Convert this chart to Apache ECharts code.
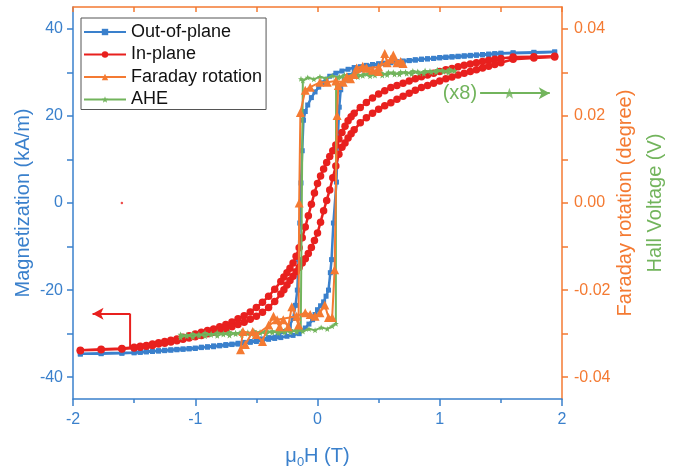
<!DOCTYPE html>
<html lang="en">
<head>
    <meta charset="UTF-8">
    <title>Hysteresis</title>
    <script src="https://cdn.jsdelivr.net/npm/echarts@6/dist/echarts.min.js"></script>
    <style>
        html, body { margin: 0; padding: 0; background: #fff; }
        #chart { width: 679px; height: 468px; }
    </style>
</head>
<body>
    <div id="chart"></div>
    <script>
        // colours
        var BLUE = '#3a80cc';
        var RED = '#e8201e';
        var ORANGE = '#f47a32';
        var GREEN = '#72b45c';
        var STAR = 'path://M12,1 L15,9 L23,9 L17,14 L19,22 L12,17 L5,22 L7,14 L1,9 L9,9 Z';

        // Out-of-plane magnetization (kA/m), field sweep down then up
        var outPlaneDown = [[1.94,34.6],[1.77,34.5],[1.6,34.4],[1.5,34.3],[1.45,34.2],[1.4,34.1],[1.35,34.0],[1.3,33.9],[1.25,33.8],[1.2,33.7],[1.15,33.6],[1.1,33.5],[1.05,33.4],[1.0,33.3],[0.95,33.2],[0.9,33.1],[0.85,33.0],[0.8,32.9],[0.75,32.7],[0.7,32.6],[0.65,32.4],[0.6,32.3],[0.55,32.1],[0.5,32.0],[0.45,31.8],[0.4,31.6],[0.35,31.3],[0.3,31.1],[0.25,30.7],[0.2,30.3],[0.15,29.8],[0.1,29.1],[0.07,28.4],[0.04,27.6],[0.01,26.6],[-0.02,25.5],[-0.05,24.2],[-0.08,22.5],[-0.1,21.0],[-0.115,19.0],[-0.125,12.0],[-0.135,4.6],[-0.145,-4.6],[-0.155,-13.0],[-0.165,-20.0],[-0.18,-23.5],[-0.2,-26.5],[-0.23,-28.3],[-0.27,-29.5],[-0.32,-30.3],[-0.4,-30.9],[-0.45,-31.2],[-0.5,-31.5],[-0.55,-31.8],[-0.6,-32.0],[-0.65,-32.2],[-0.7,-32.4],[-0.75,-32.5],[-0.8,-32.7],[-0.85,-32.8],[-0.9,-33.0],[-0.95,-33.1],[-1.0,-33.3],[-1.05,-33.4],[-1.1,-33.5],[-1.15,-33.6],[-1.2,-33.7],[-1.25,-33.8],[-1.3,-33.9],[-1.35,-34.0],[-1.4,-34.1],[-1.45,-34.2],[-1.5,-34.3],[-1.6,-34.4],[-1.77,-34.5],[-1.94,-34.6]];
        var outPlaneUp = [[-1.94,-34.7],[-1.77,-34.6],[-1.6,-34.5],[-1.5,-34.4],[-1.45,-34.3],[-1.4,-34.2],[-1.35,-34.1],[-1.3,-34.0],[-1.25,-33.9],[-1.2,-33.8],[-1.15,-33.7],[-1.1,-33.6],[-1.05,-33.5],[-1.0,-33.4],[-0.95,-33.2],[-0.9,-33.1],[-0.85,-33.0],[-0.8,-32.8],[-0.75,-32.7],[-0.7,-32.5],[-0.65,-32.4],[-0.6,-32.2],[-0.55,-32.0],[-0.5,-31.8],[-0.45,-31.6],[-0.4,-31.3],[-0.35,-31.1],[-0.3,-30.9],[-0.25,-30.6],[-0.2,-30.4],[-0.15,-30.0],[-0.1,-28.7],[-0.07,-27.8],[-0.04,-26.8],[-0.02,-25.6],[0.0,-24.5],[0.025,-23.6],[0.05,-22.7],[0.07,-21.4],[0.09,-20.0],[0.105,-16.0],[0.115,-13.0],[0.13,-4.6],[0.155,4.8],[0.168,16.0],[0.178,22.0],[0.19,26.0],[0.22,28.2],[0.26,29.3],[0.3,30.0],[0.35,30.6],[0.4,31.1],[0.45,31.5],[0.5,31.8],[0.55,32.0],[0.6,32.2],[0.65,32.4],[0.7,32.5],[0.75,32.7],[0.8,32.8],[0.85,33.0],[0.9,33.1],[0.95,33.2],[1.0,33.4],[1.05,33.5],[1.1,33.6],[1.15,33.7],[1.2,33.8],[1.25,33.9],[1.3,34.0],[1.35,34.1],[1.4,34.2],[1.45,34.3],[1.5,34.4],[1.6,34.5],[1.77,34.6],[1.94,34.7]];

        // In-plane magnetization (kA/m)
        var inPlaneDown = [[1.94,33.7],[1.77,33.6],[1.6,33.5],[1.5,33.2],[1.45,33.0],[1.4,32.8],[1.35,32.5],[1.3,32.2],[1.25,31.9],[1.2,31.6],[1.15,31.3],[1.1,30.9],[1.05,30.6],[1.0,30.2],[0.95,29.8],[0.9,29.4],[0.85,29.0],[0.8,28.5],[0.75,28.0],[0.7,27.5],[0.65,27.0],[0.6,26.5],[0.55,25.8],[0.5,25.0],[0.45,24.1],[0.4,23.1],[0.35,21.9],[0.3,20.6],[0.275,19.8],[0.25,18.9],[0.225,17.6],[0.2,16.2],[0.175,14.7],[0.15,13.3],[0.125,12.0],[0.1,10.7],[0.075,9.3],[0.05,7.8],[0.025,6.2],[0.0,4.5],[-0.025,2.3],[-0.05,-0.3],[-0.075,-2.9],[-0.1,-5.5],[-0.125,-8.0],[-0.15,-10.3],[-0.175,-12.2],[-0.2,-13.8],[-0.225,-15.0],[-0.25,-16.0],[-0.275,-17.0],[-0.3,-18.0],[-0.35,-19.8],[-0.4,-21.4],[-0.45,-22.8],[-0.5,-24.0],[-0.55,-25.0],[-0.6,-25.9],[-0.65,-26.6],[-0.7,-27.3],[-0.75,-27.9],[-0.8,-28.4],[-0.85,-28.9],[-0.9,-29.3],[-0.95,-29.7],[-1.0,-30.1],[-1.05,-30.5],[-1.1,-30.8],[-1.15,-31.2],[-1.2,-31.5],[-1.25,-31.8],[-1.3,-32.1],[-1.35,-32.4],[-1.4,-32.7],[-1.45,-32.9],[-1.5,-33.1],[-1.6,-33.4],[-1.77,-33.6],[-1.94,-33.8]];
        var inPlaneUp = [[-1.94,-33.9],[-1.77,-33.7],[-1.6,-33.5],[-1.5,-33.3],[-1.45,-33.1],[-1.4,-32.9],[-1.35,-32.7],[-1.3,-32.4],[-1.25,-32.2],[-1.2,-31.9],[-1.15,-31.6],[-1.1,-31.3],[-1.05,-31.0],[-1.0,-30.7],[-0.95,-30.4],[-0.9,-30.0],[-0.85,-29.7],[-0.8,-29.3],[-0.75,-28.9],[-0.7,-28.4],[-0.65,-27.9],[-0.6,-27.4],[-0.55,-26.7],[-0.5,-26.0],[-0.45,-25.1],[-0.4,-24.0],[-0.35,-22.6],[-0.3,-20.9],[-0.275,-19.9],[-0.25,-18.8],[-0.225,-17.8],[-0.2,-16.8],[-0.175,-15.8],[-0.15,-14.8],[-0.125,-13.8],[-0.1,-12.8],[-0.075,-11.6],[-0.05,-10.2],[-0.025,-8.6],[0.0,-6.9],[0.025,-4.4],[0.05,-1.8],[0.075,0.6],[0.1,3.0],[0.125,5.8],[0.15,8.5],[0.175,11.2],[0.2,12.8],[0.225,13.8],[0.25,14.9],[0.275,15.9],[0.3,16.8],[0.35,18.4],[0.4,19.6],[0.45,20.6],[0.5,21.5],[0.55,22.3],[0.6,23.0],[0.65,23.8],[0.7,24.5],[0.75,25.2],[0.8,25.9],[0.85,26.5],[0.9,27.0],[0.95,27.5],[1.0,28.0],[1.05,28.5],[1.1,28.9],[1.15,29.4],[1.2,29.8],[1.25,30.2],[1.3,30.6],[1.35,31.0],[1.4,31.4],[1.45,31.8],[1.5,32.2],[1.6,33.0],[1.77,33.3],[1.94,33.5]];

        // Faraday rotation (degree)
        var faradayDown = [[0.70,0.0320],[0.65,0.0322],[0.62,0.0340],[0.57,0.0322],[0.55,0.0343],[0.50,0.0302],[0.45,0.0305],[0.40,0.0310],[0.37,0.0314],[0.32,0.0310],[0.27,0.0285],[0.21,0.0277],[0.15,0.0280],[0.08,0.0277],[0.02,0.0277],[-0.06,0.0266],[-0.10,0.0259],[-0.14,0.0208],[-0.15,0.0000],[-0.155,-0.0280],[-0.21,-0.0238],[-0.24,-0.0284],[-0.28,-0.0268],[-0.31,-0.0284],[-0.36,-0.0260],[-0.40,-0.0280],[-0.45,-0.0318],[-0.53,-0.0295],[-0.59,-0.0325],[-0.63,-0.0337]];
        var faradayUp = [[-0.61,-0.0295],[-0.50,-0.0302],[-0.33,-0.0268],[-0.17,-0.0260],[-0.10,-0.0252],[-0.06,-0.0256],[-0.02,-0.0260],[0.02,-0.0252],[0.06,-0.0234],[0.09,-0.0263],[0.12,-0.0263],[0.14,-0.0153],[0.16,0.0201],[0.17,0.0270],[0.24,0.0290],[0.30,0.0295],[0.40,0.0310],[0.50,0.0312],[0.60,0.0330],[0.68,0.0325]];

        // AHE Hall voltage (V, x8)
        var aheDown = [[1.12,0.0304],[1.07,0.0299],[1.02,0.0305],[0.97,0.0300],[0.92,0.0303],[0.87,0.0297],[0.82,0.0302],[0.77,0.0296],[0.72,0.0301],[0.67,0.0295],[0.62,0.0300],[0.57,0.0294],[0.52,0.0299],[0.47,0.0293],[0.42,0.0298],[0.37,0.0292],[0.32,0.0296],[0.27,0.0290],[0.22,0.0294],[0.17,0.0288],[0.12,0.0292],[0.07,0.0286],[0.02,0.0290],[-0.03,0.0284],[-0.08,0.0288],[-0.12,0.0281],[-0.135,0.0285],[-0.137,-0.0288],[-0.17,-0.0296],[-0.22,-0.0291],[-0.27,-0.0297],[-0.32,-0.0292],[-0.37,-0.0298],[-0.42,-0.0293],[-0.47,-0.0299],[-0.52,-0.0294],[-0.57,-0.0300],[-0.62,-0.0295],[-0.67,-0.0301],[-0.72,-0.0296],[-0.77,-0.0302],[-0.82,-0.0297],[-0.87,-0.0303],[-0.92,-0.0298],[-0.97,-0.0305],[-1.02,-0.0300],[-1.07,-0.0306],[-1.12,-0.0302]];
        var aheUp = [[-1.12,-0.0309],[-1.07,-0.0303],[-1.02,-0.0308],[-0.97,-0.0301],[-0.92,-0.0306],[-0.87,-0.0300],[-0.82,-0.0305],[-0.77,-0.0299],[-0.72,-0.0304],[-0.67,-0.0298],[-0.62,-0.0303],[-0.57,-0.0297],[-0.52,-0.0302],[-0.47,-0.0296],[-0.42,-0.0300],[-0.37,-0.0294],[-0.32,-0.0299],[-0.27,-0.0293],[-0.22,-0.0297],[-0.17,-0.0291],[-0.12,-0.0295],[-0.07,-0.0289],[-0.02,-0.0292],[0.03,-0.0286],[0.08,-0.0289],[0.12,-0.0283],[0.15,-0.0277],[0.152,0.0282],[0.18,0.0290],[0.23,0.0286],[0.28,0.0293],[0.33,0.0289],[0.38,0.0296],[0.43,0.0291],[0.48,0.0298],[0.53,0.0293],[0.58,0.0300],[0.63,0.0295],[0.68,0.0301],[0.73,0.0297],[0.78,0.0303],[0.83,0.0298],[0.88,0.0304],[0.93,0.0300],[0.98,0.0306],[1.03,0.0301],[1.08,0.0307],[1.12,0.0303]];

        var strayPoint = [[-1.6, 0]];

        // annotation arrows
        var redArrowPath = [[-1.533, -33.2], [-1.533, -25.4]];
        var redArrowHead = [[-1.533, -25.4], [-1.84, -25.4]];
        var greenArrow = [[1.33, 0.0252], [1.9, 0.0252]];
        var greenArrowStar = [[1.57, 0.0252]];

        // ticks
        var leftLabels = [-40, -20, 0, 20, 40];
        var leftTicks = [-40, -30, -20, -10, 0, 10, 20, 30, 40];
        var rightLabels = [-0.04, -0.02, 0, 0.02, 0.04];
        var rightTicks = [-0.04, -0.03, -0.02, -0.01, 0, 0.01, 0.02, 0.03, 0.04];

        var FONT = '"Liberation Sans", Arial, sans-serif';

        var chart = echarts.init(document.getElementById('chart'));
        chart.setOption({
            animation: false,
            textStyle: { fontFamily: FONT },
            grid: { left: 73, right: 117, top: 7, bottom: 69, containLabel: false, outerBoundsMode: 'none' },
            legend: {
                data: ['Out-of-plane', 'In-plane', 'Faraday rotation', 'AHE'],
                orient: 'vertical',
                left: 81,
                top: 18,
                padding: [5, 4, 1, 2],
                itemWidth: 42,
                itemHeight: 8,
                itemGap: 4.5,
                borderColor: '#555',
                borderWidth: 1,
                textStyle: { fontSize: 18, color: '#111', fontFamily: FONT }
            },
            xAxis: [{
                type: 'value',
                min: -2, max: 2, interval: 1,
                position: 'bottom',
                name: '{a|μ}{s|0}{a|H (T)}',
                nameLocation: 'middle',
                nameGap: 45,
                nameMoveOverlap: false,
                nameTextStyle: {
                    rich: {
                        a: { fontSize: 20, color: BLUE, fontFamily: FONT },
                        s: { fontSize: 13, color: BLUE, fontFamily: FONT, padding: [12, 0, 0, 0] }
                    }
                },
                axisLine: { onZero: false, lineStyle: { color: BLUE, width: 1.5 } },
                axisTick: { length: 7, lineStyle: { color: BLUE, width: 1.5 } },
                minorTick: { show: true, splitNumber: 2, length: 4, lineStyle: { color: BLUE, width: 1.5 } },
                axisLabel: { fontSize: 16, color: BLUE, margin: 13, fontFamily: FONT },
                splitLine: { show: false }
            }, {
                type: 'value',
                min: -2, max: 2, interval: 0.5,
                position: 'top',
                axisLine: { onZero: false, lineStyle: { color: ORANGE, width: 1.5 } },
                axisTick: { inside: true, length: 5, lineStyle: { color: ORANGE, width: 1.5 } },
                axisLabel: { show: false },
                splitLine: { show: false }
            }],
            yAxis: [{
                type: 'value',
                min: -45, max: 45,
                position: 'left',
                name: 'Magnetization (kA/m)',
                nameLocation: 'middle',
                nameGap: 40,
                nameMoveOverlap: false,
                nameTextStyle: { fontSize: 20, color: BLUE, fontFamily: FONT },
                axisLine: { show: true, onZero: false, lineStyle: { color: BLUE, width: 1.5 } },
                axisTick: { show: true, length: 6, customValues: leftTicks, lineStyle: { color: BLUE, width: 1.5 } },
                axisLabel: { fontSize: 16, color: BLUE, margin: 10, customValues: leftLabels, fontFamily: FONT },
                splitLine: { show: false }
            }, {
                type: 'value',
                min: -0.045, max: 0.045,
                position: 'right',
                name: '{a|Faraday rotation (degree)}\n{b|Hall Voltage (V)}',
                nameLocation: 'middle',
                nameRotate: 90,
                nameGap: 48,
                nameMoveOverlap: false,
                nameTextStyle: {
                    align: 'center',
                    rich: {
                        a: { fontSize: 20, color: ORANGE, lineHeight: 30, align: 'center', fontFamily: FONT },
                        b: { fontSize: 20, color: GREEN, lineHeight: 30, align: 'center', fontFamily: FONT }
                    }
                },
                axisLine: { show: true, onZero: false, lineStyle: { color: ORANGE, width: 1.5 } },
                axisTick: { show: true, length: 6, customValues: rightTicks, lineStyle: { color: ORANGE, width: 1.5 } },
                axisLabel: {
                    fontSize: 16, color: ORANGE, margin: 12, customValues: rightLabels, fontFamily: FONT,
                    formatter: function (v) { return v.toFixed(2); }
                },
                splitLine: { show: false }
            }],
            series: [{
                name: 'Out-of-plane',
                type: 'line',
                data: outPlaneDown.concat(outPlaneUp),
                symbol: 'rect',
                symbolSize: 5,
                showAllSymbol: true,
                color: BLUE,
                lineStyle: { width: 2.5, color: BLUE },
                itemStyle: { color: BLUE },
                z: 2
            }, {
                name: 'In-plane',
                type: 'line',
                data: inPlaneDown.concat(inPlaneUp),
                symbol: 'circle',
                symbolSize: 7.5,
                showAllSymbol: true,
                color: RED,
                lineStyle: { width: 2.5, color: RED },
                itemStyle: { color: RED },
                z: 3
            }, {
                name: 'AHE',
                type: 'line',
                yAxisIndex: 1,
                data: aheDown.concat(aheUp),
                symbol: STAR,
                symbolSize: 6,
                showAllSymbol: true,
                color: GREEN,
                lineStyle: { width: 2, color: GREEN },
                itemStyle: { color: GREEN },
                z: 4
            }, {
                name: 'Faraday rotation',
                type: 'line',
                yAxisIndex: 1,
                data: faradayDown.concat(faradayUp),
                symbol: 'triangle',
                symbolSize: 9,
                showAllSymbol: true,
                color: ORANGE,
                lineStyle: { width: 2, color: ORANGE },
                itemStyle: { color: ORANGE },
                z: 5
            }, {
                name: 'stray',
                type: 'scatter',
                data: strayPoint,
                symbolSize: 2.5,
                itemStyle: { color: RED },
                silent: true
            }, {
                name: 'arrowRed',
                type: 'line',
                data: redArrowPath,
                symbol: 'none',
                lineStyle: { width: 2, color: RED },
                silent: true,
                markLine: {
                    silent: true,
                    symbol: ['none', 'arrow'],
                    symbolSize: [9, 11],
                    lineStyle: { color: RED, width: 2, type: 'solid' },
                    label: { show: false },
                    data: [[{ coord: redArrowHead[0] }, { coord: redArrowHead[1] }]]
                }
            }, {
                name: 'arrowGreen',
                type: 'scatter',
                yAxisIndex: 1,
                data: greenArrowStar,
                symbol: STAR,
                symbolSize: 11,
                itemStyle: { color: GREEN },
                silent: true,
                z: 6,
                markLine: {
                    silent: true,
                    symbol: ['none', 'arrow'],
                    symbolSize: [9, 11],
                    lineStyle: { color: GREEN, width: 2, type: 'solid' },
                    label: {
                        show: true, position: 'start', distance: 3,
                        formatter: '(x8)', fontSize: 20, color: GREEN, fontFamily: FONT
                    },
                    data: [[{ coord: greenArrow[0] }, { coord: greenArrow[1] }]]
                }
            }]
        });
    </script>
</body>
</html>
